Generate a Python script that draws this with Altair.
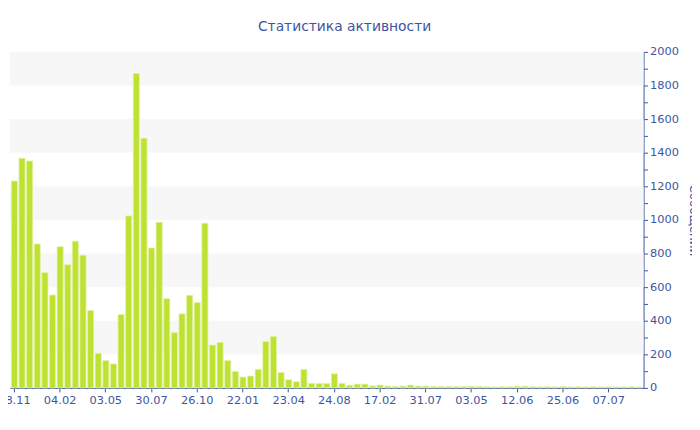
import altair as alt
import pandas as pd

counts = [1231, 1367, 1351, 857, 686, 553, 841, 733, 873, 790,
          461, 206, 163, 143, 437, 1024, 1871, 1486, 833, 986,
          531, 329, 441, 551, 508, 980, 255, 271, 163, 98,
          65, 71, 110, 276, 306, 92, 49, 37, 110, 27,
          27, 27, 84, 27, 16, 23, 23, 12, 17, 11,
          9, 11, 17, 11, 11, 9, 9, 9, 8, 8,
          10, 8, 7, 6, 7, 7, 10, 10, 7, 6,
          7, 6, 8, 6, 7, 6, 7, 6, 7, 6,
          6, 7, 6]
tick_labels = ['08.11', '04.02', '03.05', '30.07', '26.10', '22.01', '23.04',
               '24.08', '17.02', '31.07', '03.05', '12.06', '25.06', '07.07']
tick_every = 6
band_lo = [200, 600, 1000, 1400, 1800]
band_hi = [400, 800, 1200, 1600, 2000]

df = pd.DataFrame({"i": list(range(len(counts))), "n": counts})
bands = pd.DataFrame({"lo": band_lo, "hi": band_hi})

AX = "#3d55a0"
FONT = "DejaVu Sans"
label_expr = "[" + ",".join(f"'{t}'" for t in tick_labels) + f"][datum.value / {tick_every}]"

yscale = alt.Scale(domain=[0, 2000], nice=False)
y_axis = alt.Axis(orient="right", values=list(range(0, 2001, 100)), format="d",
                  labelExpr="datum.value % 200 == 0 ? datum.label : ''",
                  grid=False, domainColor=AX, tickColor=AX, labelColor=AX,
                  labelFont=FONT, labelFontSize=11.5, tickSize=4, labelPadding=2,
                  titleColor=AX, titleFont=FONT, titleFontSize=12, titleFontWeight="normal",
                  titleAngle=90, titleX=46, titleY=170, titleAlign="center",
                  titleBaseline="alphabetic")

x_enc = alt.X("i:O", scale=alt.Scale(paddingInner=0.2, paddingOuter=0.184),
              axis=alt.Axis(values=list(range(0, len(counts), tick_every)),
                            labelExpr=label_expr, labelAngle=0, title=None,
                            domainColor=AX, tickColor=AX, labelColor=AX,
                            labelFont=FONT, labelFontSize=11.5, tickSize=4,
                            labelPadding=3, grid=False))

band_layer = alt.Chart(bands).mark_rect(color="#f7f7f7").encode(
    y=alt.Y("lo:Q", scale=yscale, axis=y_axis, title="Сообщений"),
    y2="hi:Q",
    x=alt.value(0), x2=alt.value("width"),
)

bar_layer = alt.Chart(df).mark_bar(color="#bde232", stroke="#e3f1a6", strokeWidth=0.8).encode(
    x=x_enc,
    y=alt.Y("n:Q", scale=yscale, axis=y_axis, title="Сообщений"),
)

chart = alt.layer(band_layer, bar_layer).properties(
    width=641, height=340,
    title=alt.TitleParams("Статистика активности", font=FONT, fontSize=14,
                          fontWeight="normal", color=AX, anchor="middle",
                          dx=18, offset=1, baseline="alphabetic"),
    autosize=alt.AutoSizeParams(type="none"),
    padding={"left": 2, "top": 42, "right": 49, "bottom": 28},
    background="white",
).configure_view(stroke=None, strokeWidth=0)

chart.save("out.html", embed_options={"renderer": "svg", "actions": False})
